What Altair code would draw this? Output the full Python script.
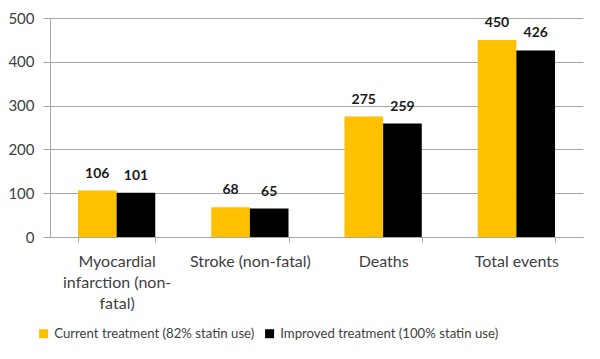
import altair as alt
import pandas as pd

categories = ["Myocardial infarction (non-fatal)", "Stroke (non-fatal)", "Deaths", "Total events"]
series = ["Current treatment (82% statin use)", "Improved treatment (100% statin use)"]
current = [106, 68, 275, 450]
improved = [101, 65, 259, 426]
colors = ["#FFC000", "#000000"]

rows = []
for c, a, b in zip(categories, current, improved):
    rows.append({"category": c, "series": series[0], "value": a})
    rows.append({"category": c, "series": series[1], "value": b})
df = pd.DataFrame(rows)

FONT = "Lato"
label_expr = ("datum.value == 'Myocardial infarction (non-fatal)' ? "
              "['Myocardial', 'infarction (non-', 'fatal)'] : datum.value")

x = alt.X("category:N", sort=categories, title=None,
          scale=alt.Scale(paddingInner=0.42, paddingOuter=0.21),
          axis=alt.Axis(labelAngle=0, labelExpr=label_expr, tickBand="extent",
                        labelFont=FONT, labelFontSize=16, labelColor="#404040",
                        labelLineHeight=21, labelPadding=11, tickSize=5,
                        tickColor="#A6A6A6", domainColor="#A6A6A6", grid=False,
                        labelLimit=0))
xo = alt.XOffset("series:N", sort=series, scale=alt.Scale(paddingInner=0, paddingOuter=0))
y = alt.Y("value:Q", title=None,
          scale=alt.Scale(domain=[0, 500], nice=False),
          axis=alt.Axis(values=[0, 100, 200, 300, 400, 500], labelFont=FONT,
                        labelFontSize=15, labelColor="#404040", labelPadding=9,
                        tickSize=7, tickColor="#A6A6A6", domainColor="#A6A6A6",
                        gridColor="#A6A6A6", gridWidth=1))

bars = alt.Chart(df).mark_bar().encode(
    x=x, xOffset=xo, y=y,
    color=alt.Color("series:N", sort=series,
                    scale=alt.Scale(domain=series, range=colors),
                    legend=alt.Legend(title=None, orient="none", direction="horizontal",
                                      legendX=-13, legendY=309, symbolType="square",
                                      symbolSize=81, symbolStrokeWidth=0,
                                      labelFont=FONT, labelFontSize=13.2, labelLimit=0,
                                      labelColor="#404040", columnPadding=8,
                                      symbolOffset=0, labelOffset=4)),
)

labels = alt.Chart(df).mark_text(dy=-10, baseline="bottom", fontWeight="bold",
                                 fontSize=14, font=FONT, color="#1a1a1a").encode(
    x=alt.X("category:N", sort=categories), xOffset=alt.XOffset("series:N", sort=series),
    y="value:Q", text="value:Q",
)

chart = (bars + labels).properties(
    width=533, height=219,
    padding={"left": 42, "top": 10, "right": 9, "bottom": 114},
    autosize=alt.AutoSizeParams(type="none"),
).configure_view(stroke=None)

chart.save("out.html", embed_options={"renderer": "svg", "actions": False})
